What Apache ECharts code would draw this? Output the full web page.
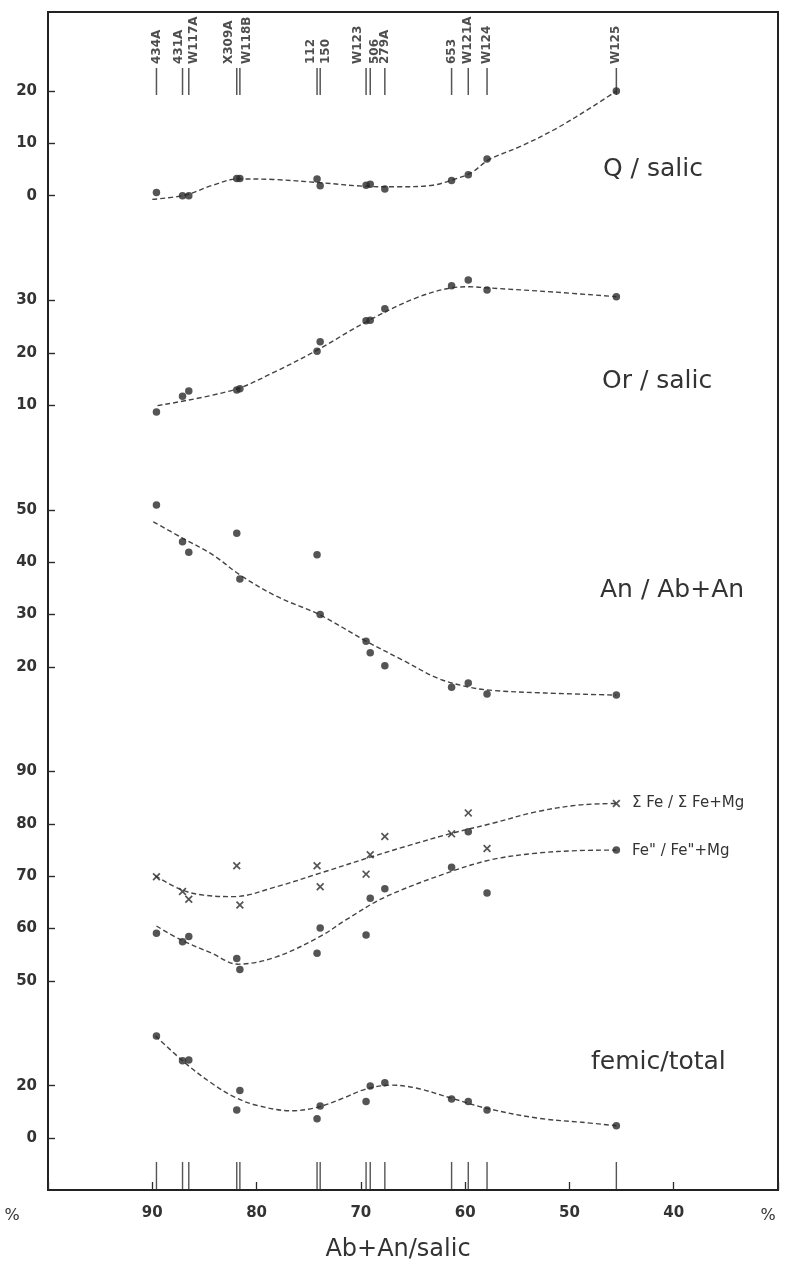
<!DOCTYPE html>
<html><head><meta charset="utf-8">
<script src="https://cdn.jsdelivr.net/npm/echarts@6/dist/echarts.min.js"></script>
<style>html,body{margin:0;padding:0;background:#fff}#c{width:789px;height:1267px}</style>
</head><body><div id="c"></div>
<script>
// ---- data ----
const samples = ['434A','431A','W117A','X309A','W118B','112','150','W123','506','279A','653','W121A','W124','W125'];
const abAn    = [89.6, 87.1, 86.5, 81.9, 81.6, 74.2, 73.9, 69.5, 69.1, 67.7, 61.3, 59.7, 57.9, 45.5];
const qSalic  = [0.6, 0.0, 0.0, 3.3, 3.3, 3.2, 1.9, 2.0, 2.2, 1.3, 2.9, 4.0, 7.0, 20.0];
const orSalic = [8.7, 11.7, 12.7, 12.9, 13.1, 20.3, 22.1, 26.1, 26.2, 28.4, 32.8, 33.9, 32.0, 30.7];
const anAbAn  = [50.9, 43.9, 41.9, 45.5, 36.8, 41.4, 30.0, 24.9, 22.7, 20.2, 16.1, 16.9, 14.8, 14.6];
const sumFe   = [69.9, 67.1, 65.6, 72.0, 64.5, 72.0, 68.0, 70.4, 74.1, 77.6, 78.1, 82.1, 75.3, 83.9];
const fe2Fe   = [59.1, 57.5, 58.5, 54.3, 52.2, 55.3, 60.1, 58.8, 65.8, 67.6, 71.7, 78.5, 66.8, 75.0];
const femic   = [39.0, 29.5, 29.8, 10.7, 18.1, 7.4, 12.2, 13.9, 19.9, 21.1, 14.9, 13.9, 10.7, 4.7];

// hand-drawn trend curves
const qTrendX = [90.0, 86.9, 84.2, 81.8, 78.4, 74.0, 69.6, 66.5, 63.1, 61.1, 59.4, 57.7, 54.6, 51.2, 47.8, 45.5];
const qTrendY = [-0.7, 0.1, 2.0, 3.2, 3.1, 2.5, 1.8, 1.7, 2.0, 3.1, 4.4, 6.9, 9.5, 12.9, 17.0, 20.0];
const orTrendX = [89.5, 82.2, 78.1, 74.2, 69.4, 64.8, 61.3, 59.6, 57.9, 51.5, 45.5];
const orTrendY = [9.9, 12.9, 16.5, 20.5, 26.0, 30.4, 32.4, 32.6, 32.4, 31.6, 30.7];
const anTrendX = [89.9, 87.1, 84.2, 81.4, 78.0, 73.9, 69.4, 66.0, 62.6, 59.8, 57.4, 52.3, 45.5];
const anTrendY = [47.7, 44.6, 41.4, 37.3, 33.4, 29.9, 24.8, 21.3, 17.8, 16.2, 15.5, 15.0, 14.6];
const sumFeTrendX = [89.7, 87.2, 85.1, 82.2, 78.1, 73.9, 69.0, 65.7, 61.5, 57.4, 53.2, 49.1, 45.5];
const sumFeTrendY = [70.1, 67.4, 66.4, 66.1, 68.0, 70.6, 73.7, 75.7, 78.1, 80.1, 82.3, 83.6, 83.9];
const fe2TrendX = [89.6, 87.2, 84.3, 81.8, 78.1, 73.9, 71.4, 67.7, 61.5, 57.4, 53.2, 49.1, 45.5];
const fe2TrendY = [60.5, 57.8, 55.3, 53.2, 54.6, 58.5, 61.7, 66.0, 70.8, 73.2, 74.4, 74.9, 75.0];
const femicTrendX = [89.7, 86.8, 84.3, 82.2, 80.1, 76.7, 74.2, 71.7, 69.6, 67.1, 64.6, 61.3, 57.9, 52.9, 48.8, 45.5];
const femicTrendY = [39.0, 28.5, 20.9, 15.8, 12.6, 10.4, 11.7, 15.2, 18.6, 20.2, 19.0, 15.2, 11.3, 7.5, 6.0, 4.7];

const xTicks = [90, 80, 70, 60, 50, 40];

// ---- layout / style ----
const labelDx = [0, -4, 5, -8, 7, -6, 6, -8, 5, 0, 0, 0, 0, 0];
const FONT = 'DejaVu Sans';
const INK = '#2b2b2b';
const TXT = '#333';
const LINE = '#444';
const L = 48, W = 730;
const STEP = 52.35, TOP0 = 91;

const zip = (xs, ys) => xs.map((x, i) => [x, ys[i]]);

const panels = [
  {k0: 0,  n: 3, min: -10, max: 20, interval: 10, hideMin: true},
  {k0: 4,  n: 3, min: 0,   max: 30, interval: 10, hideMin: true},
  {k0: 8,  n: 4, min: 10,  max: 50, interval: 10, hideMin: true},
  {k0: 13, n: 5, min: 40,  max: 90, interval: 10, hideMin: true},
  {k0: 19, n: 1, min: 0,   max: 20, interval: 20, hideMin: false}
];

const grids = [
  {left: L, width: W, top: 12, height: 1181, show: true, borderColor: '#222', borderWidth: 2, backgroundColor: 'transparent'},
  {left: L, width: W, top: 60, height: 35}
];
const xAxes = [
  {gridIndex: 0, type: 'value', min: 30, max: 100, interval: 10, inverse: true,
   axisLine: {show: false},
   axisTick: {show: true, inside: true, length: 8, lineStyle: {color: INK, width: 1.3}},
   axisLabel: {show: true, margin: 16, fontFamily: FONT, fontSize: 15, fontWeight: 'bold', color: TXT,
     formatter: v => (xTicks.indexOf(v) >= 0 ? String(v) : '')},
   splitLine: {show: false},
   name: 'Ab+An/salic', nameLocation: 'middle', nameGap: 48,
   nameTextStyle: {fontFamily: FONT, fontSize: 24, color: TXT, padding: [0, 30, 0, 0]}},
  {gridIndex: 1, type: 'value', min: 30, max: 100, inverse: true, show: false}
];
const yAxes = [
  {gridIndex: 0, type: 'value', min: 0, max: 1, show: false},
  {gridIndex: 1, type: 'value', min: 0, max: 1, show: false}
];
panels.forEach((p, i) => {
  grids.push({left: L, width: W, top: TOP0 + STEP * p.k0, height: STEP * p.n});
  xAxes.push({gridIndex: i + 2, type: 'value', min: 30, max: 100, inverse: true, show: false});
  yAxes.push({gridIndex: i + 2, type: 'value', min: p.min, max: p.max, interval: p.interval,
    axisLine: {show: false},
    axisTick: {show: true, inside: true, length: 7, lineStyle: {color: INK, width: 1.4}},
    axisLabel: {show: true, margin: 11, fontFamily: FONT, fontSize: 15, fontWeight: 'bold', color: TXT,
      showMinLabel: !p.hideMin},
    splitLine: {show: false}});
});

const dot = (name, idx, vals) => ({
  type: 'scatter', name, xAxisIndex: idx, yAxisIndex: idx, clip: false, z: 5,
  symbol: 'circle', symbolSize: 7.5, itemStyle: {color: INK},
  data: zip(abAn, vals)
});
const trend = (name, idx, xs, ys) => ({
  type: 'line', name, xAxisIndex: idx, yAxisIndex: idx, clip: false, z: 3,
  symbol: 'none', smooth: 0.35,
  lineStyle: {type: [5, 3], width: 1.4, color: LINE},
  data: zip(xs, ys)
});
const crossPath = 'path://M0,1.5L1.5,0L5,3.5L8.5,0L10,1.5L6.5,5L10,8.5L8.5,10L5,6.5L1.5,10L0,8.5L3.5,5Z';

const series = [
  {type: 'scatter', name: 'samples', xAxisIndex: 1, yAxisIndex: 1, clip: false,
   symbol: 'rect', symbolSize: [1.5, 27], symbolOffset: [0, -13.5], itemStyle: {color: INK},
   label: {show: true, formatter: '{b}', rotate: 90, align: 'left', verticalAlign: 'middle',
     fontFamily: FONT, fontSize: 12, fontWeight: 'bold', color: '#222'},
   data: abAn.map((x, i) => ({name: samples[i], value: [x, 0],
     label: {position: [0.75 + labelDx[i], -4]}}))},
  {type: 'scatter', name: 'sampleTicks', xAxisIndex: 0, yAxisIndex: 0, clip: false,
   symbol: 'rect', symbolSize: [1.4, 28], symbolOffset: [0, -14], itemStyle: {color: INK},
   data: abAn.map(x => [x, 0])},
  trend('Q/salic trend', 2, qTrendX, qTrendY),
  dot('Q/salic', 2, qSalic),
  trend('Or/salic trend', 3, orTrendX, orTrendY),
  dot('Or/salic', 3, orSalic),
  trend('An/Ab+An trend', 4, anTrendX, anTrendY),
  dot('An/Ab+An', 4, anAbAn),
  trend('ΣFe trend', 5, sumFeTrendX, sumFeTrendY),
  {type: 'scatter', name: 'ΣFe/ΣFe+Mg', xAxisIndex: 5, yAxisIndex: 5, clip: false, z: 5,
   symbol: crossPath, symbolSize: 8, itemStyle: {color: INK}, data: zip(abAn, sumFe)},
  trend('Fe" trend', 5, fe2TrendX, fe2TrendY),
  dot('Fe"/Fe"+Mg', 5, fe2Fe),
  trend('femic trend', 6, femicTrendX, femicTrendY),
  dot('femic/total', 6, femic)
];

const chart = echarts.init(document.getElementById('c'));
chart.setOption({
  animation: false,
  backgroundColor: '#fff',
  grid: grids, xAxis: xAxes, yAxis: yAxes, series,
  graphic: [
    {type: 'text', x: 603, y: 169, style: {text: 'Q / salic', fontFamily: FONT, fontSize: 25, fill: TXT, verticalAlign: 'middle'}},
    {type: 'text', x: 602, y: 381, style: {text: 'Or / salic', fontFamily: FONT, fontSize: 25, fill: TXT, verticalAlign: 'middle'}},
    {type: 'text', x: 600, y: 590, style: {text: 'An / Ab+An', fontFamily: FONT, fontSize: 25, fill: TXT, verticalAlign: 'middle'}},
    {type: 'text', x: 632, y: 803, style: {text: 'Σ Fe / Σ Fe+Mg', fontFamily: FONT, fontSize: 15, fill: TXT, verticalAlign: 'middle'}},
    {type: 'text', x: 632, y: 851, style: {text: 'Fe" / Fe"+Mg', fontFamily: FONT, fontSize: 15, fill: TXT, verticalAlign: 'middle'}},
    {type: 'text', x: 591, y: 1062, style: {text: 'femic/total', fontFamily: FONT, fontSize: 25, fill: TXT, verticalAlign: 'middle'}},
    {type: 'text', x: 12, y: 1216, style: {text: '%', fontFamily: FONT, fontSize: 16, fill: TXT, align: 'center', verticalAlign: 'middle'}},
    {type: 'text', x: 768, y: 1216, style: {text: '%', fontFamily: FONT, fontSize: 16, fill: TXT, align: 'center', verticalAlign: 'middle'}}
  ]
});
</script></body></html>
